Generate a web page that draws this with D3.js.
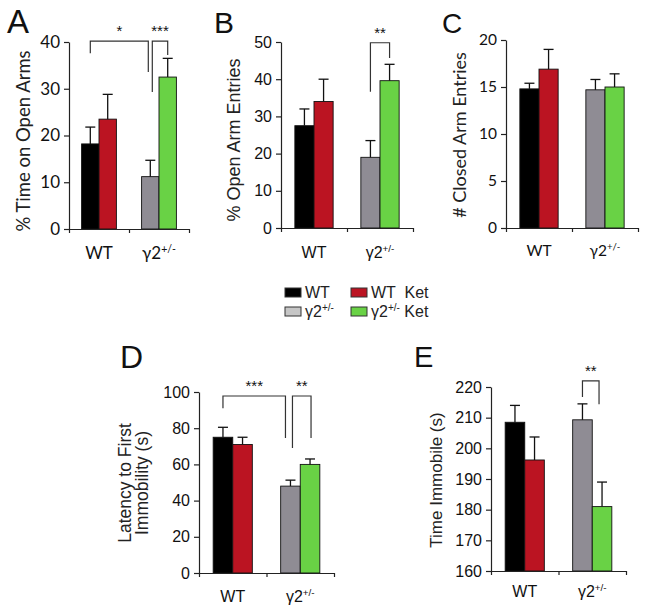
<!DOCTYPE html>
<html><head><meta charset="utf-8">
<script src="https://cdn.jsdelivr.net/npm/d3@7"></script>
<style>body{margin:0;background:#fff}</style>
</head><body><svg id="c" width="645" height="613"></svg>
<script>
// ---- data ----
const groups = ["WT", "γ2+/-"];
const series = ["WT", "WT  Ket", "γ2+/-", "γ2+/- Ket"]; // order: WT veh, WT ket, γ2 veh, γ2 ket
const barColors = ["#000000", "#bb1422", "#8f8c94", "#69d245"];
const legendColors = ["#000000", "#bb1422", "#c6c6c6", "#69d245"];

const aMean = [18.2, 23.5, 11.2, 32.5];
const aSem  = [3.6, 5.3, 3.5, 4.0];
const aTicks = [0, 10, 20, 30, 40];

const bMean = [27.5, 34.0, 19.0, 39.6];
const bSem  = [4.5, 6.0, 4.5, 4.4];
const bTicks = [0, 10, 20, 30, 40, 50];

const cMean = [14.8, 16.9, 14.7, 15.0];
const cSem  = [0.6, 2.1, 1.1, 1.4];
const cTicks = [0, 5, 10, 15, 20];

const dMean = [75, 71, 48, 60];
const dSem  = [5.5, 4.0, 3.3, 3.0];
const dTicks = [0, 20, 40, 60, 80, 100];

const eMean = [208.5, 196.2, 209.3, 181.0];
const eSem  = [5.5, 7.5, 5.2, 8.0];
const eTicks = [160, 170, 180, 190, 200, 210, 220];

// significance brackets: [leftBar, rightBar, topValue, leftLegEnd, rightLegEnd, label, leftShift, rightShift]
const aSig = [[0, 2, 40.2, 37.6, 33.6, "*", 0, -2], [2, 3, 40.2, 29.3, 37.2, "***", 2, 0]];
const bSig = [[2, 3, 49.8, 36.6, 45.7, "**", 0, 0]];
const cSig = [];
const dSig = [[0, 2, 97.8, 91, 74.6, "***", 0, -5], [2, 3, 97.8, 69, 74.6, "**", 2, 1]];
const eSig = [[2, 3, 222, 216.7, 214.4, "**", 0, -3]];

// ---- layout ----
const panels = [
  {letter:"A", lx:7, ly:33, lsize:33, mean:aMean, sem:aSem, ticks:aTicks, domain:[0,40], x0:69, x1:189, yB:229, yT:42, xlab:30,
   font:"Lato, 'Open Sans', sans-serif", tsize:17, title:["% Time on Open Arms"], titleX:[30], titleY:141, titleSize:18.5, sig:aSig},
  {letter:"B", lx:214, ly:33, lsize:30, mean:bMean, sem:bSem, ticks:bTicks, domain:[0,50], x0:281, x1:413, yB:228, yT:42, xlab:30,
   font:"'Liberation Sans', Arial, sans-serif", tsize:16, title:["% Open Arm Entries"], titleX:[240], titleY:140, titleSize:18, sig:bSig},
  {letter:"C", lx:442, ly:33, lsize:28, mean:cMean, sem:cSem, ticks:cTicks, domain:[0,20], x0:506, x1:638, yB:228, yT:40, xlab:28,
   font:"Lato, 'Open Sans', sans-serif", tsize:15.5, title:["# Closed Arm Entries"], titleX:[466], titleY:135, titleSize:18, sig:cSig},
  {letter:"D", lx:120, ly:368, lsize:32, mean:dMean, sem:dSem, ticks:dTicks, domain:[0,100], x0:199, x1:334, yB:573, yT:392, xlab:29,
   font:"'Liberation Sans', Arial, sans-serif", tsize:16, title:["Latency to First", "Immobility (s)"], titleX:[131, 148], titleY:483, titleSize:17.5, sig:dSig},
  {letter:"E", lx:414, ly:367, lsize:29, mean:eMean, sem:eSem, ticks:eTicks, domain:[160,220], x0:491, x1:626, yB:571, yT:387, xlab:26,
   font:"'Liberation Sans', Arial, sans-serif", tsize:16, title:["Time Immobile (s)"], titleX:[442], titleY:480, titleSize:17, sig:eSig}
];

const svg = d3.select("#c");
const AXIS = "#222";

function gammaLabel(sel, size) {
  sel.append("tspan").text("γ2");
  sel.append("tspan").attr("dy", -size*0.38).attr("font-size", size*0.62).text("+/-");
}

panels.forEach(p => {
  const g = svg.append("g").attr("font-family", p.font);
  const y = d3.scaleLinear().domain(p.domain).range([p.yB, p.yT]);
  const xb = d3.scaleBand().domain(groups).range([p.x0, p.x1]);
  const xEdge = d3.scaleLinear().domain([0, groups.length]).range([p.x0, p.x1]);
  const bw = xb.bandwidth() * 0.29;
  const barLeft = i => xb(groups[Math.floor(i / 2)]) + xb.bandwidth() / 2 + (i % 2 - 1) * bw;
  const barCenter = i => barLeft(i) + bw / 2;

  // letter
  svg.append("text").attr("x", p.lx).attr("y", p.ly).attr("font-family", "'Liberation Sans', Arial, sans-serif")
    .attr("font-size", p.lsize).attr("fill", "#111").text(p.letter);

  // bars
  g.selectAll("rect.bar").data(p.mean).join("rect").attr("class", "bar")
    .attr("x", (d, i) => barLeft(i)).attr("y", d => y(d))
    .attr("width", bw).attr("height", d => y(p.domain[0]) - y(d))
    .attr("fill", (d, i) => barColors[i]).attr("stroke", "#111").attr("stroke-width", 0.9);

  // error bars
  const eg = g.append("g").attr("stroke", "#111").attr("stroke-width", 1.3);
  p.mean.forEach((m, i) => {
    const cx = barCenter(i);
    eg.append("line").attr("x1", cx).attr("x2", cx).attr("y1", y(m)).attr("y2", y(m + p.sem[i]));
    eg.append("line").attr("x1", cx - 5).attr("x2", cx + 5).attr("y1", y(m + p.sem[i])).attr("y2", y(m + p.sem[i]));
  });

  // y axis
  const ya = g.append("g").attr("transform", `translate(${p.x0},0)`)
    .call(d3.axisLeft(y).tickValues(p.ticks).tickSize(5).tickSizeOuter(0).tickPadding(4));
  ya.selectAll("text").attr("font-size", p.tsize).attr("fill", "#111").attr("font-family", p.font);
  ya.selectAll("line,path").attr("stroke", AXIS).attr("stroke-width", 1.2);

  // x axis
  const xa = g.append("g").attr("transform", `translate(0,${p.yB})`)
    .call(d3.axisBottom(xEdge).tickValues(d3.range(groups.length + 1)).tickSize(4).tickSizeOuter(0).tickFormat(""));
  xa.selectAll("line,path").attr("stroke", AXIS).attr("stroke-width", 1.2);

  // x labels
  groups.forEach((grp, gi) => {
    const t = g.append("text").attr("x", xb(grp) + xb.bandwidth() / 2).attr("y", p.yB + p.xlab)
      .attr("text-anchor", "middle").attr("font-size", p.tsize).attr("fill", "#111");
    if (gi === 0) t.text(grp); else gammaLabel(t, p.tsize);
  });

  // y title
  const tt = g.append("text").attr("text-anchor", "middle").attr("font-size", p.titleSize).attr("fill", "#222")
    .attr("transform", `translate(${p.titleX[0]},${p.titleY}) rotate(-90)`);
  p.title.forEach((line, li) => {
    tt.append("tspan").attr("x", 0).attr("dy", li === 0 ? 0 : (p.titleX[li] - p.titleX[li - 1])).text(line);
  });

  // significance
  p.sig.forEach(s => {
    const [l, r, top, lEnd, rEnd, lab, ls, rs] = s;
    const xl = barCenter(l) + ls, xr = barCenter(r) + rs;
    g.append("path").attr("fill", "none").attr("stroke", "#333").attr("stroke-width", 1.2)
      .attr("d", `M${xl},${y(lEnd)}V${y(top)}H${xr}V${y(rEnd)}`);
    g.append("text").attr("x", (xl + xr) / 2).attr("y", y(top) - 5).attr("text-anchor", "middle")
      .attr("font-family", "'Liberation Sans', Arial, sans-serif").attr("font-size", 15).attr("fill", "#111").text(lab);
  });
});

// legend
const leg = svg.append("g").attr("font-family", "'Liberation Sans', Arial, sans-serif").attr("font-size", 16).attr("fill", "#222");
const legX = [285, 351], legY = [288, 307];
series.forEach((s, i) => {
  const col = i % 2, row = Math.floor(i / 2);
  leg.append("rect").attr("x", legX[col]).attr("y", legY[row]).attr("width", 16).attr("height", 9)
    .attr("fill", legendColors[i]).attr("stroke", "#333").attr("stroke-width", 1);
  const t = leg.append("text").attr("x", legX[col] + 20).attr("y", legY[row] + 10).attr("xml:space", "preserve")
    .style("white-space", "pre");
  if (row === 0) t.text(s);
  else {
    t.append("tspan").text("γ2");
    t.append("tspan").attr("dy", -6).attr("font-size", 10).text("+/-");
    if (col === 1) t.append("tspan").attr("dy", 6).text(" Ket");
  }
});
</script></body></html>
